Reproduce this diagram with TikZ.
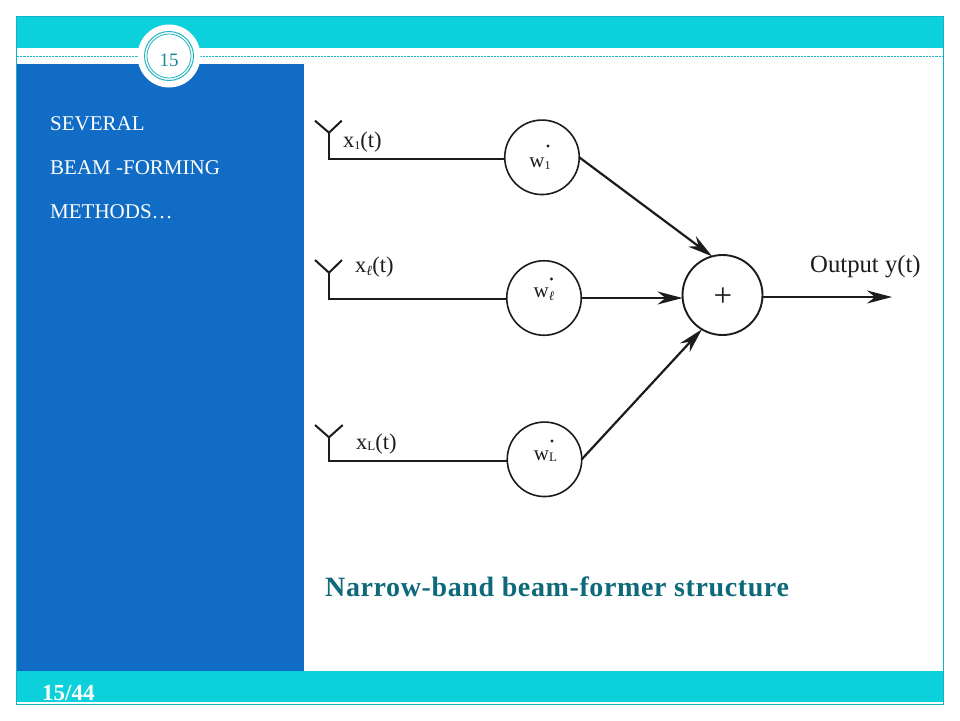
\documentclass[tikz,border=0pt]{standalone}
\usepackage{fontspec}
\setmainfont{Liberation Serif}
\usetikzlibrary{arrows.meta}
\definecolor{barcol}{HTML}{0CD0DA}
\definecolor{bardark}{HTML}{12B3C4}
\definecolor{panel}{HTML}{106CC4}
\definecolor{ringcol}{HTML}{1FB5BC}
\definecolor{numcol}{HTML}{1A8C98}
\definecolor{capcol}{HTML}{0E6A7A}
\definecolor{ink}{HTML}{1C1C1C}
\tikzset{
  wgt/.style={circle,draw=ink,line width=1.6pt,minimum size=74.5pt,inner sep=0pt,outer sep=0pt},
  summer/.style={circle,draw=ink,line width=1.9pt,minimum size=80pt,inner sep=0pt,outer sep=0pt},
  wire/.style={draw=ink,line width=2pt},
  feed/.style={draw=ink,line width=2.2pt,-{Stealth[length=25pt,width=13pt,inset=8pt]}},
  aerial/.style={draw=ink,line width=2pt},
  side/.style={anchor=base west,text=white,font=\fontsize{21}{21}\selectfont,inner sep=0pt},
  sig/.style={anchor=base west,text=ink,font=\fontsize{22.5}{22.5}\selectfont,inner sep=0pt},
  wlab/.style={anchor=base,text=ink,font=\fontsize{21}{21}\selectfont,inner sep=0pt}
}
\begin{document}
\begin{tikzpicture}[x=1pt,y=-1pt]
\useasboundingbox (0,0) rectangle (960,720);
\fill[white] (0,0) rectangle (960,720);
% frame
\fill[barcol] (16,16) rectangle (944,48);
\draw[bardark,line width=0.8pt] (16,16.4) -- (944,16.4);
\fill[panel] (16,64) rectangle (304,671);
\fill[barcol] (16,671) rectangle (944,703);
\draw[bardark,line width=0.8pt] (16.4,16) -- (16.4,704);
\draw[bardark,line width=0.8pt] (943.6,16) -- (943.6,704);
\draw[bardark,line width=0.8pt] (16,704) -- (944,704);
\draw[white,line width=0.8pt] (17,702.6) -- (943,702.6);
\draw[ringcol,line width=0.7pt,dash pattern=on 2.2pt off 1pt] (17,56.4) -- (943,56.4);
% page badge
\node[circle,fill=white,minimum size=63pt,inner sep=0pt] (badge) at (169,56) {};
\node[circle,draw=ringcol,line width=1pt,minimum size=49pt,inner sep=0pt] (ringa) at (169,56) {};
\node[circle,draw=ringcol,line width=0.8pt,minimum size=44pt,inner sep=0pt] (ringb) at (169,56) {};
\node[anchor=base,text=numcol,font=\fontsize{19}{19}\selectfont,inner sep=0pt] (num) at (169,66.5) {15};
% side text
\node[side] (t1) at (50,130) {SEVERAL};
\node[side] (t2) at (50,174) {BEAM -FORMING};
\node[side] (t3) at (50,218) {METHODS…};
\node[anchor=base west,text=white,font=\bfseries\fontsize{23}{23}\selectfont,inner sep=0pt] (pg) at (42,700.5) {15/44};
% weights
\node[wgt] (w1) at (542,157.3) {};
\node[wgt] (w2) at (544,298) {};
\node[wgt] (w3) at (544.5,459.3) {};
\node[summer] (sum) at (722.5,295) {};
\node[anchor=center,text=ink,font=\fontsize{33}{33}\selectfont,inner sep=0pt] (plus) at (723,297) {+};
% antennas
\coordinate (a1) at (329,159);
\coordinate (a2) at (329,299);
\coordinate (a3) at (329,461);
\coordinate (j1) at (329,132.7);
\coordinate (j2) at (329,272.7);
\coordinate (j3) at (329,437.3);
\coordinate (l1) at (315,120.7);
\coordinate (r1) at (341.7,120.7);
\coordinate (l2) at (315,260);
\coordinate (r2) at (342,260);
\coordinate (l3) at (315,425);
\coordinate (r3) at (342.7,425);
\draw[aerial,line join=miter] (l1) -- (j1) -- (r1);
\draw[aerial,line join=miter] (l2) -- (j2) -- (r2);
\draw[aerial,line join=miter] (l3) -- (j3) -- (r3);
\draw[wire] (j1) -- (a1) -- (w1.west |- a1);
\draw[wire] (j2) -- (a2) -- (w2.west |- a2);
\draw[wire] (j3) -- (a3) -- (w3.west |- a3);
% connectors
\draw[feed] (w1.east) -- (sum.105);
\draw[feed] (w2.east) -- (sum.west |- w2.east);
\draw[feed] (w3.east) -- (sum.239);
\coordinate (out) at (892,297);
\draw[feed] (sum.east |- out) -- (out);
% labels
\node[sig] (x1) at (343,147) {x\raisebox{-2pt}{\fontsize{12}{12}\selectfont 1}(t)};
\node[sig] (x2) at (355,272) {x\raisebox{-3pt}{\fontsize{14}{14}\selectfont\itshape ℓ}(t)};
\node[sig] (x3) at (356,449) {x\raisebox{-1pt}{\fontsize{13}{13}\selectfont L}(t)};
\node[wlab] (wl1) at (540,167) {w\raisebox{-2pt}{\fontsize{12}{12}\selectfont 1}};
\node[wlab] (wl2) at (544,297) {w\raisebox{-3pt}{\fontsize{13}{13}\selectfont\itshape ℓ}};
\node[wlab] (wl3) at (545.5,460) {w\raisebox{-1pt}{\fontsize{13}{13}\selectfont L}};
\fill[ink] (548,146) circle (1.6pt);
\fill[ink] (551.5,279) circle (1.6pt);
\fill[ink] (552,441) circle (1.6pt);
\node[anchor=base west,text=ink,font=\fontsize{24.7}{24.7}\selectfont,inner sep=0pt] (outl) at (810,272) {Output y(t)};
% caption
\node[anchor=base west,text=capcol,font=\bfseries\fontsize{28}{28}\selectfont\addfontfeatures{LetterSpace=2.2},inner sep=0pt] (cap) at (325,596) {Narrow-band beam-former structure};
\end{tikzpicture}
\end{document}
